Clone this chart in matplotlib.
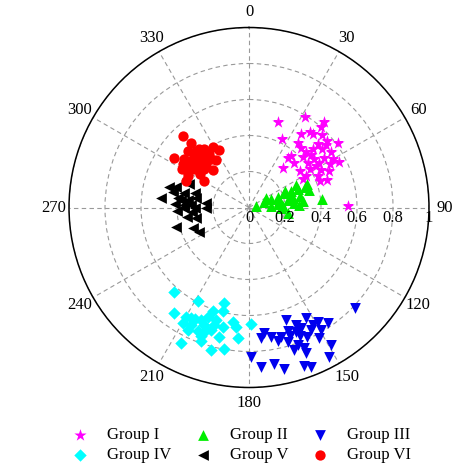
import numpy as np
import matplotlib
matplotlib.use("Agg")
import matplotlib.pyplot as plt
import matplotlib.transforms as mtransforms

plt.rcParams['font.family'] = ['Liberation Serif', 'DejaVu Serif']

# ---- data: angle (degrees, clockwise from north) and radius ----
g1_theta = [31.6, 18.6, 41.4, 41.6, 35.6, 38.7, 41.3, 45.4, 25.6, 49.7, 37.0, 47.6, 54.3,
            40.9, 47.8, 51.4, 38.9, 56.1, 38.0, 47.2, 53.0, 56.3, 60.0, 62.9, 45.0, 53.3,
            57.3, 61.8, 41.1, 54.6, 57.8, 62.8, 65.2, 60.7, 65.1, 70.5, 62.2, 69.4, 89.4,
            50.0, 46.0, 58.0, 51.0]
g1_r = [0.59, 0.50, 0.63, 0.60, 0.50, 0.54, 0.54, 0.57, 0.42, 0.57, 0.45, 0.52, 0.61,
        0.44, 0.48, 0.52, 0.37, 0.55, 0.35, 0.41, 0.45, 0.50, 0.54, 0.56, 0.35, 0.41,
        0.46, 0.51, 0.29, 0.35, 0.40, 0.45, 0.49, 0.36, 0.42, 0.46, 0.34, 0.42, 0.55,
        0.45, 0.44, 0.44, 0.55]

g2_theta = [67.9, 73.6, 68.8, 68.0, 68.2, 77.0, 69.2, 77.5, 67.8, 79.8, 82.6, 71.6, 82.1,
            84.9, 74.0, 84.8, 86.7, 87.7, 83.0, 76.9, 98.7, 65.3, 64.9, 69.4, 62.0, 75.3, 90.0]
g2_r = [0.35, 0.35, 0.29, 0.25, 0.21, 0.29, 0.17, 0.25, 0.13, 0.22, 0.30, 0.09, 0.16,
        0.25, 0.04, 0.12, 0.19, 0.28, 0.41, 0.17, 0.22, 0.22, 0.29, 0.33, 0.11, 0.24, 0.18]

g3_theta = [133.4, 161.9, 152.8, 149.0, 145.7, 158.3, 173.2, 162.7, 156.7, 153.2, 149.7,
            174.8, 170.4, 166.2, 162.1, 158.2, 155.8, 151.9, 167.9, 164.0, 160.4, 158.7,
            149.3, 179.2, 162.5, 158.7, 151.9, 175.7, 171.0, 167.8, 161.0, 158.8, 159.5, 151.5]
g3_r = [0.81, 0.66, 0.69, 0.74, 0.78, 0.70, 0.70, 0.72, 0.73, 0.76, 0.79,
        0.73, 0.73, 0.74, 0.75, 0.77, 0.79, 0.82, 0.76, 0.78, 0.81, 0.84,
        0.89, 0.83, 0.83, 0.87, 0.94, 0.89, 0.88, 0.92, 0.93, 0.95, 0.74, 0.74]

g4_theta = [221.5, 208.5, 194.6, 215.6, 198.9, 194.0, 209.8, 203.0, 206.0, 200.3, 209.6,
            206.2, 200.9, 196.5, 187.9, 179.0, 206.4, 202.5, 197.2, 192.1, 186.1, 200.6,
            193.0, 184.8, 206.7, 199.6, 194.9, 189.9, 199.3, 196.3, 207.6]
g4_r = [0.63, 0.59, 0.55, 0.72, 0.61, 0.59, 0.70, 0.68, 0.69, 0.65, 0.74,
        0.73, 0.70, 0.68, 0.64, 0.65, 0.76, 0.74, 0.71, 0.68, 0.67, 0.76,
        0.74, 0.73, 0.84, 0.79, 0.82, 0.80, 0.72, 0.65, 0.69]

g5_theta = [286.1, 284.0, 291.0, 276.5, 281.2, 283.0, 285.3, 277.2, 277.5, 279.6, 276.6,
            273.0, 272.6, 270.0, 270.0, 267.6, 265.1, 261.0, 258.3, 254.7, 243.4, 250.3,
            270.0, 275.9, 272.0]
g5_r = [0.42, 0.46, 0.36, 0.49, 0.43, 0.37, 0.31, 0.40, 0.34, 0.30, 0.24,
        0.41, 0.36, 0.30, 0.24, 0.40, 0.32, 0.35, 0.30, 0.42, 0.31, 0.33,
        0.36, 0.38, 0.32]

g6_theta = [317.1, 317.8, 319.6, 313.0, 322.7, 329.0, 332.2, 314.5, 318.4, 323.5, 303.3,
            307.0, 311.2, 315.6, 322.2, 324.9, 307.2, 310.8, 315.7, 303.7, 299.8, 305.3,
            310.3, 315.8, 299.1, 304.2, 301.0, 293.2, 297.7, 317.1, 320.4, 305.0, 311.2]
g6_r = [0.54, 0.48, 0.43, 0.46, 0.41, 0.39, 0.36, 0.43, 0.40, 0.37, 0.50,
        0.45, 0.41, 0.38, 0.34, 0.32, 0.40, 0.37, 0.34, 0.44, 0.43, 0.37,
        0.33, 0.29, 0.39, 0.33, 0.29, 0.38, 0.38, 0.43, 0.37, 0.40, 0.35]

labels = ["Group I", "Group II", "Group III", "Group IV", "Group V", "Group VI"]
colors = ["#ff00ff", "#00ee00", "#0000ee", "#00ffff", "#000000", "#ff0000"]
markers = ["*", "^", "v", "D", "<", "o"]
sizes = [85, 60, 60, 40, 60, 55]
thetas = [g1_theta, g2_theta, g3_theta, g4_theta, g5_theta, g6_theta]
radii = [g1_r, g2_r, g3_r, g4_r, g5_r, g6_r]

angle_ticks = list(range(0, 360, 30))
r_ticks = [0, 0.2, 0.4, 0.6, 0.8, 1.0]
r_tick_labels = ["0", "0.2", "0.4", "0.6", "0.8", "1"]

fig = plt.figure(figsize=(4.67, 4.70), dpi=100)
ax = fig.add_axes([69 / 467, (470 - 387.5) / 470, 360 / 467, 360 / 470], projection='polar')
ax.set_theta_zero_location('N')
ax.set_theta_direction(-1)
ax.set_ylim(0, 1)

handles = []
for th, r, lab, c, m, s in zip(thetas, radii, labels, colors, markers, sizes):
    h = ax.scatter(np.deg2rad(th), r, s=s, c=c, marker=m, linewidths=0, label=lab, zorder=3)
    handles.append(h)

ax.set_thetagrids(angle_ticks, [str(a) for a in angle_ticks], fontsize=12)
ax.set_rticks(r_ticks)
ax.set_yticklabels([])
ax.grid(True, color='#999999', linestyle=(0, (4, 3)), linewidth=0.8)
ax.tick_params(axis='x', pad=4, direction='in', length=6, width=1.0, colors='black')
ax.spines['polar'].set_linewidth(1.1)
ax.spines['polar'].set_color('black')

offset = mtransforms.offset_copy(ax.transData, fig=fig, y=-1.5, units='points')
for rv, lab in zip(r_ticks, r_tick_labels):
    ax.text(np.deg2rad(90), rv, lab, ha='center', va='top', fontsize=12,
            transform=offset, zorder=4)

order = [0, 3, 1, 4, 2, 5]
fig.legend([handles[i] for i in order], [labels[i] for i in order], ncol=3,
           loc='center', bbox_to_anchor=(238 / 467, 1 - 445 / 470), frameon=False,
           fontsize=12, labelspacing=0.25, columnspacing=1.0, handletextpad=0.7,
           handlelength=1.8)

fig.savefig("out.png", dpi=100)
